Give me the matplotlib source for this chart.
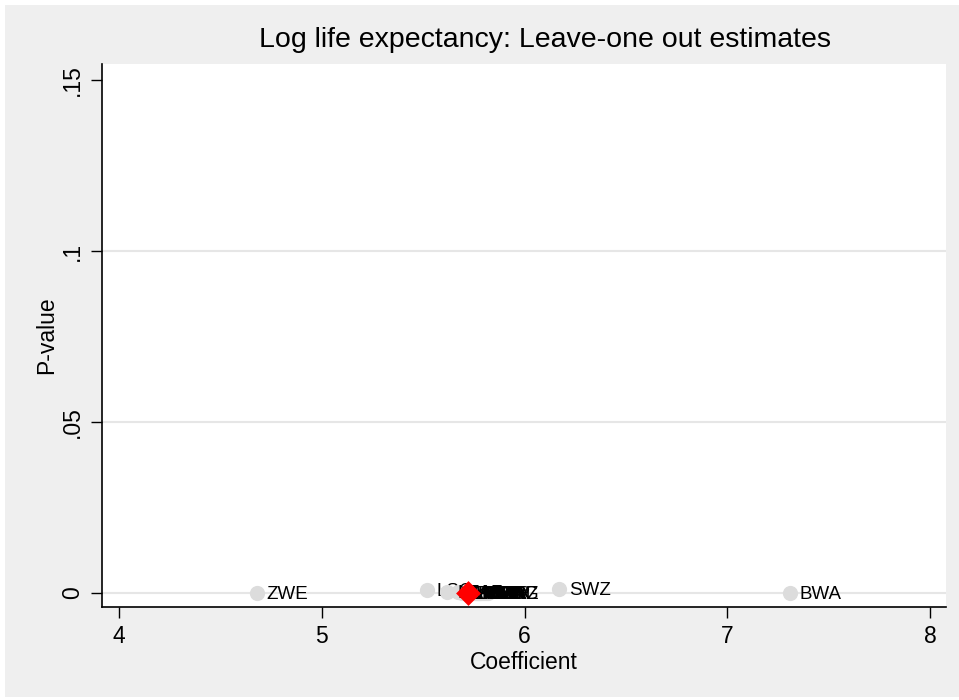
import matplotlib
matplotlib.use("Agg")
import matplotlib.pyplot as plt
from matplotlib.patches import Rectangle

plt.rcParams['font.family'] = ['Liberation Sans', 'DejaVu Sans']

countries = ["ZWE", "LSO", "SWZ", "BWA",
             "NAM", "ZAF", "MWI", "ZMB", "UGA", "KEN", "TZA", "RWA", "CMR",
             "NGA", "GHA", "CIV", "SEN", "MLI", "BFA", "NER", "ETH", "MDG", "MOZ"]
coef = [4.68, 5.52, 6.17, 7.31,
        5.62, 5.67, 5.69, 5.70, 5.71, 5.72, 5.73, 5.74, 5.75,
        5.76, 5.76, 5.77, 5.77, 5.78, 5.78, 5.79, 5.80, 5.81, 5.82]
pval = [0.0001, 0.0009, 0.0012, 0.0001,
        0.0003, 0.0002, 0.0001, 0.0, 0.0, 0.0, 0.0, 0.0, 0.0,
        0.0, 0.0, 0.0, 0.0, 0.0, 0.0, 0.0, 0.0, 0.0, 0.0]
full_coef = [5.72]
full_p = [0.0]

xticks = [4, 5, 6, 7, 8]
yticks = [0, 0.05, 0.10, 0.15]
ytick_labels = ["0", ".05", ".1", ".15"]

W, H = 959, 700
fig = plt.figure(figsize=(W / 100, H / 100), dpi=100)
fig.patch.set_facecolor("white")
fig.patches.append(Rectangle((5 / W, 3 / H), (W - 5) / W, (H - 8) / H,
                             transform=fig.transFigure, facecolor="#efefef",
                             edgecolor="none", zorder=0))

ax = fig.add_axes([102 / W, 1 - 607 / H, (946 - 102) / W, (607 - 64) / H])
ax.set_zorder(2)
ax.set_facecolor("white")
ax.set_xlim(3.916, 8.079)
ax.set_ylim(-0.0041, 0.1547)

for yv in yticks[:-1]:
    ax.axhline(yv, color="#e6e6e6", lw=1.5, zorder=0)

ax.scatter(coef, pval, s=120, color="#dcdcdc", zorder=3, linewidths=0)
for c, p, name in zip(coef, pval, countries):
    z = 2.5 if name == "LSO" else 4
    ax.annotate(name, (c, p), xytext=(7, -1), textcoords="offset points",
                fontsize=13.5, va="center", ha="left", color="black", zorder=z)
ax.scatter(full_coef, full_p, s=160, marker="D", color="red", zorder=100, linewidths=0)

ax.set_xticks(xticks)
ax.set_xticklabels([str(v) for v in xticks])
ax.set_yticks(yticks)
ax.set_yticklabels(ytick_labels, rotation=90, va="center")
ax.tick_params(axis="both", labelsize=16.5, length=8, width=1, direction="out", pad=5)

for s in ["top", "right"]:
    ax.spines[s].set_visible(False)
for s in ["left", "bottom"]:
    ax.spines[s].set_linewidth(1.2)

ax.set_xlabel("Coefficient", fontsize=16.5, labelpad=2)
ax.set_ylabel("P-value", fontsize=16.5, labelpad=2)
fig.text(545 / W, 1 - 40 / H, "Log life expectancy: Leave-one out estimates",
         fontsize=20.5, ha="center", va="center")

fig.savefig("out.png", dpi=100)
